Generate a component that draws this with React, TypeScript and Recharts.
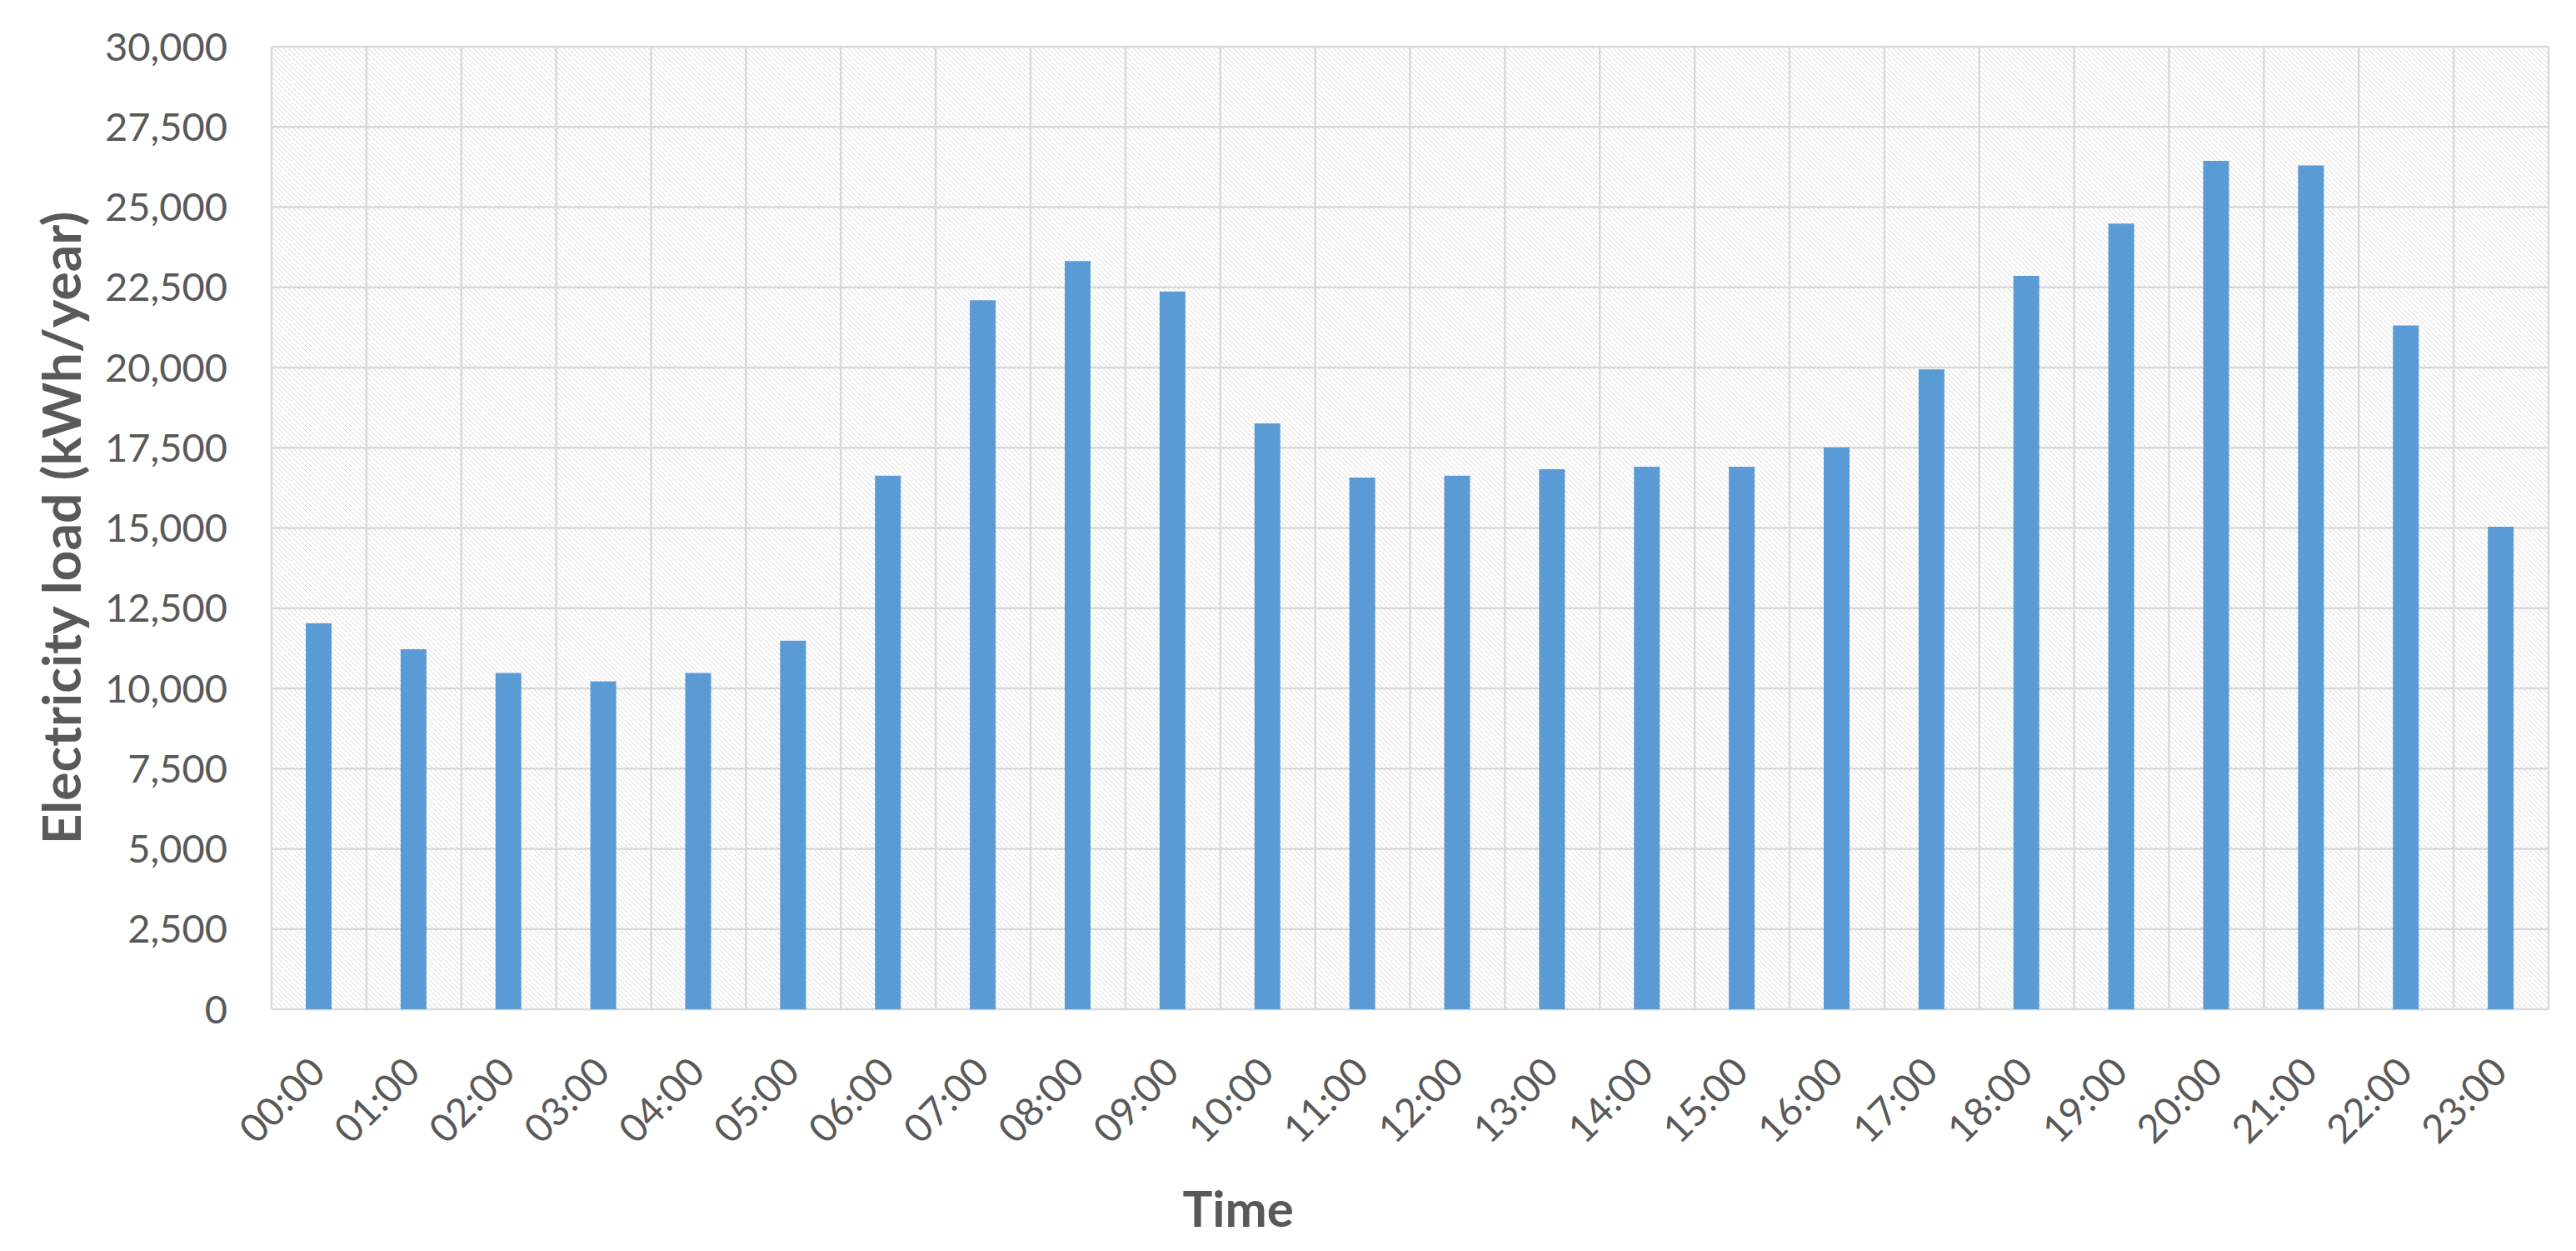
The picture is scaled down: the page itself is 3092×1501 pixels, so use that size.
import React from "react";
import { BarChart, Bar, XAxis, YAxis, CartesianGrid } from "recharts";

const HOURS = [
  "00:00", "01:00", "02:00", "03:00", "04:00", "05:00",
  "06:00", "07:00", "08:00", "09:00", "10:00", "11:00",
  "12:00", "13:00", "14:00", "15:00", "16:00", "17:00",
  "18:00", "19:00", "20:00", "21:00", "22:00", "23:00",
];

// kWh/year
const LOAD = [
  12030, 11220, 10480, 10220, 10480, 11490,
  16630, 22100, 23320, 22370, 18260, 16570,
  16630, 16830, 16910, 16910, 17510, 19940,
  22860, 24490, 26440, 26300, 21310, 15040,
];

const Y_TICKS = [0, 2500, 5000, 7500, 10000, 12500, 15000, 17500, 20000, 22500, 25000, 27500, 30000];

const FONT = "Lato, 'Liberation Sans', sans-serif";
const TEXT = "#595959";
const GRID = "#d9d9d9";
const BAR = "#5b9bd5";

const rows = HOURS.map((h, i) => ({ hour: h, load: LOAD[i] }));

function HourTick(props: any) {
  const { x, y, payload } = props;
  const tx = x + 10;
  const ty = y + 78;
  return (
    <text
      x={tx}
      y={ty}
      transform={`rotate(-45 ${tx} ${ty})`}
      textAnchor="end"
      fill={TEXT}
      fontSize={47}
      fontFamily={FONT}
    >
      {payload.value}
    </text>
  );
}

export default function App() {
  return (
    <div style={{ position: "absolute", left: 0, top: 0, background: "#fff" }}>
      <BarChart
        width={3092}
        height={1501}
        data={rows}
        margin={{ top: 56, right: 33, bottom: 0, left: 0 }}
      >
        <defs>
          <pattern id="hatch" patternUnits="userSpaceOnUse" width={6} height={6}>
            <rect width={6} height={6} fill="#ffffff" />
            <path d="M-1,-1 L7,7 M-7,-1 L1,7 M5,-1 L13,7" stroke="#d9d9d9" strokeWidth={1} />
          </pattern>
        </defs>
        <CartesianGrid
          fill="url(#hatch)"
          fillOpacity={1}
          stroke={GRID}
          strokeWidth={2.5}
          verticalCoordinatesGenerator={({ offset }: any) =>
            HOURS.map((_, i) => offset.left + (offset.width * i) / HOURS.length).concat(
              offset.left + offset.width
            )
          }
        />
        <XAxis
          dataKey="hour"
          height={290}
          interval={0}
          axisLine={false}
          tickLine={false}
          tickSize={0}
          tickMargin={0}
          tick={<HourTick />}
          label={{
            content: ({ viewBox }: any) => (
              <text
                x={viewBox.x + viewBox.width * 0.4245}
                y={1472}
                textAnchor="middle"
                fill={TEXT}
                fontSize={60}
                fontWeight="bold"
                fontFamily={FONT}
              >
                Time
              </text>
            ),
          }}
        />
        <YAxis
          width={326}
          domain={[0, 30000]}
          ticks={Y_TICKS}
          interval={0}
          axisLine={false}
          tickLine={false}
          tickSize={0}
          tickMargin={53}
          tick={{ fill: TEXT, fontSize: 47, fontFamily: FONT }}
          tickFormatter={(v: number) => v.toLocaleString("en-US")}
          label={{
            content: ({ viewBox }: any) => {
              const cx = 72;
              const cy = viewBox.y + viewBox.height / 2;
              return (
                <text
                  x={cx}
                  y={cy}
                  transform={`rotate(-90 ${cx} ${cy})`}
                  textAnchor="middle"
                  dominantBaseline="central"
                  fill={TEXT}
                  fontSize={64}
                  fontWeight="bold"
                  fontFamily={FONT}
                >
                  Electricity load (kWh/year)
                </text>
              );
            },
          }}
        />
        <Bar dataKey="load" fill={BAR} barSize={31} isAnimationActive={false} />
      </BarChart>
    </div>
  );
}
